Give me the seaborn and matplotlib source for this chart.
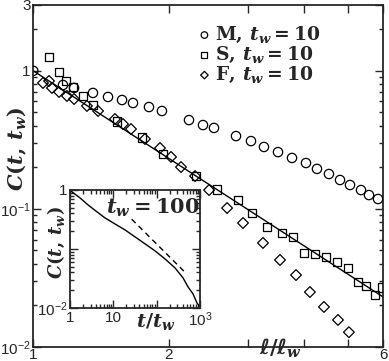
import matplotlib
matplotlib.use('Agg')
import matplotlib.pyplot as plt
import seaborn as sns
import pandas as pd
from matplotlib.ticker import FixedLocator, FixedFormatter, LogLocator, NullFormatter

# main panel, t_w = 10 : C(t, t_w) against l / l_w
m_x = [1.00, 1.164, 1.232, 1.357, 1.466, 1.575, 1.666, 1.808, 1.932, 2.219, 2.384, 2.522,
       2.823, 3.048, 3.257, 3.500, 3.760, 4.039, 4.273, 4.543, 4.808, 5.060, 5.353, 5.577, 5.841]
m_y = [1.00, 0.790, 0.752, 0.692, 0.647, 0.615, 0.585, 0.547, 0.512, 0.440, 0.405, 0.386,
       0.337, 0.310, 0.281, 0.258, 0.234, 0.215, 0.195, 0.179, 0.162, 0.149, 0.137, 0.126, 0.118]

s_x = [1.084, 1.141, 1.182, 1.225, 1.290, 1.357, 1.535, 1.744, 1.943, 2.300, 2.561, 2.851, 3.063,
       3.307, 3.571, 3.779, 3.998, 4.229, 4.473, 4.733, 5.007, 5.269, 5.489, 5.749, 5.958]
s_y = [1.26, 0.981, 0.845, 0.764, 0.658, 0.566, 0.427, 0.327, 0.250, 0.173, 0.139, 0.116, 0.0934,
       0.0739, 0.0669, 0.0626, 0.0480, 0.0472, 0.0449, 0.0413, 0.0374, 0.0296, 0.0277, 0.0238, 0.0268]

f_x = [1.051, 1.084, 1.100, 1.141, 1.188, 1.232, 1.316, 1.393, 1.519, 1.583, 1.649, 1.771, 1.913,
       2.024, 2.130, 2.289, 2.459, 2.697, 2.926, 3.241, 3.536, 3.838, 4.121, 4.428, 4.758, 5.032]
f_y = [0.817, 0.845, 0.752, 0.703, 0.658, 0.625, 0.557, 0.512, 0.448, 0.412, 0.379, 0.321, 0.276,
       0.238, 0.201, 0.173, 0.137, 0.1015, 0.0791, 0.0567, 0.0427, 0.0332, 0.0250, 0.0195, 0.0157, 0.0128]

# power-law guide line
fit_x = [1.0, 6.0]
fit_y = [1.0, 0.023]

# inset, t_w = 100 : C(t, t_w) against t / t_w
in_t = [1.0, 1.11, 1.70, 2.60, 4.20, 6.43, 10.9, 18.6, 31.6, 53.8, 91.6, 156, 265, 406, 529, 692, 852, 1000]
in_c = [1.0, 0.925, 0.732, 0.557, 0.424, 0.335, 0.265, 0.210, 0.160, 0.122, 0.0927, 0.0677, 0.0477,
        0.0324, 0.0228, 0.0173, 0.0122, 0.0104]
dash_t = [26.5, 494]
dash_c = [0.319, 0.0377]

sns.set_style('ticks')
plt.rcParams['font.family'] = ['Liberation Sans', 'DejaVu Sans']
plt.rcParams['mathtext.fontset'] = 'custom'
plt.rcParams['mathtext.rm'] = 'DejaVu Serif:bold'
plt.rcParams['mathtext.it'] = 'DejaVu Serif:italic:bold'
plt.rcParams['mathtext.bf'] = 'DejaVu Serif:bold'
plt.rcParams['mathtext.sf'] = 'DejaVu Sans:italic:bold'

fig = plt.figure(figsize=(3.89, 3.61), dpi=100)
ax = fig.add_axes([0.0856, 0.0388, 0.8997, 0.9474])

df = pd.concat([
    pd.DataFrame({'l': m_x, 'C': m_y, 'film': 'M'}),
    pd.DataFrame({'l': s_x, 'C': s_y, 'film': 'S'}),
    pd.DataFrame({'l': f_x, 'C': f_y, 'film': 'F'}),
])

# Plot the three films
styles = [('M', 'o', 45), ('S', 's', 40), ('F', 'D', 30)]
for name, marker, size in styles:
    sub = df[df['film'] == name]
    sns.scatterplot(data=sub, x='l', y='C', marker=marker, s=size, facecolors='none',
                    edgecolor='black', linewidth=0.9, label=r'$\mathrm{%s},\, t_w = 10$' % name,
                    ax=ax, zorder=3)

sns.lineplot(x=fit_x, y=fit_y, color='black', lw=1.0, estimator=None, ax=ax, zorder=2)

ax.set_xscale('log')
ax.set_yscale('log')
ax.set_xlim(1, 6)
ax.set_ylim(0.01, 3)

ax.xaxis.set_major_locator(FixedLocator([1, 2, 3, 4, 5, 6]))
ax.xaxis.set_major_formatter(FixedFormatter(['1', '2', '', '', '', '6']))
ax.xaxis.set_minor_locator(FixedLocator([]))
ax.yaxis.set_major_locator(FixedLocator([0.01, 0.1, 1, 3]))
ax.yaxis.set_major_formatter(FixedFormatter([r'$\mathdefault{10^{-2}}$', r'$\mathdefault{10^{-1}}$', '1', '3']))
ax.yaxis.set_minor_locator(LogLocator(base=10, subs=range(2, 10)))
ax.yaxis.set_minor_formatter(NullFormatter())

ax.tick_params(which='both', direction='in', top=True, right=True, labelsize=11, width=1, pad=2)
ax.tick_params(axis='x', pad=0.5)
ax.tick_params(which='major', length=6)
ax.tick_params(which='minor', length=3)
for sp in ax.spines.values():
    sp.set_linewidth(1.3)

ax.set_ylabel(r'$C(t,\, t_w)$', fontsize=15)
ax.yaxis.set_label_coords(-0.012, 0.58)
ax.set_xlabel(r'$\mathsf{\ell}/\mathsf{\ell}_w$', fontsize=15)
ax.xaxis.set_label_coords(0.706, 0.03)

ax.legend(loc='upper left', bbox_to_anchor=(0.43, 0.98), frameon=False, fontsize=13.5,
          markerscale=0.7, handletextpad=0.15, labelspacing=0.0, borderpad=0.2, handlelength=0.8)

# inset
ins = fig.add_axes([0.18, 0.147, 0.334, 0.327])
sns.lineplot(x=in_t, y=in_c, color='black', lw=1.0, estimator=None, sort=False, ax=ins)
sns.lineplot(x=dash_t, y=dash_c, color='black', lw=1.0, estimator=None, linestyle=(0, (4, 3)), ax=ins)
ins.set_xscale('log')
ins.set_yscale('log')
ins.set_xlim(1, 1000)
ins.set_ylim(0.01, 1)
ins.xaxis.set_major_locator(FixedLocator([1, 10, 100, 1000]))
ins.xaxis.set_major_formatter(FixedFormatter(['1', '10', '', r'$\mathdefault{10^3}$']))
ins.xaxis.set_minor_locator(LogLocator(base=10, subs=range(2, 10)))
ins.xaxis.set_minor_formatter(NullFormatter())
ins.yaxis.set_major_locator(FixedLocator([0.01, 0.1, 1]))
ins.yaxis.set_major_formatter(FixedFormatter([r'$\mathdefault{10^{-2}}$', '', '1']))
ins.yaxis.set_minor_locator(LogLocator(base=10, subs=range(2, 10)))
ins.yaxis.set_minor_formatter(NullFormatter())
ins.tick_params(which='both', direction='in', top=True, right=True, labelsize=11, width=1, pad=2)
ins.tick_params(which='major', length=6)
ins.tick_params(which='minor', length=3)
for sp in ins.spines.values():
    sp.set_linewidth(1.3)
ins.set_xlabel(r'$t/t_w$', fontsize=14)
ins.xaxis.set_label_coords(0.66, -0.03)
ins.set_ylabel(r'$C(t,\, t_w)$', fontsize=13)
ins.yaxis.set_label_coords(-0.02, 0.55)
ins.text(0.28, 0.85, r'$t_w = 100$', transform=ins.transAxes, fontsize=15, ha='left', va='center')

fig.savefig('out.png', dpi=100)
